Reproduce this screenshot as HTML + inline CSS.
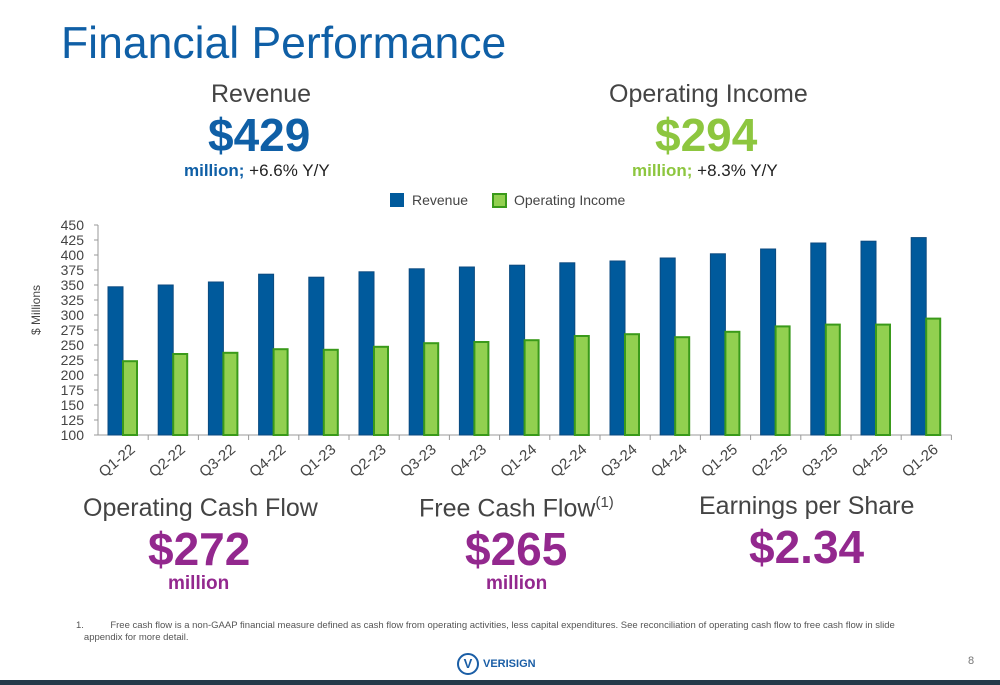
<!DOCTYPE html>
<html><head><meta charset="utf-8"><style>
body{margin:0;width:1000px;height:685px;overflow:hidden;background:#fff;font-family:"Liberation Sans",sans-serif;position:relative}
.a{position:absolute;white-space:nowrap}
</style></head><body>
<div class="a" style="left:61px;top:19px;font-size:44.5px;color:#0f5fa6">Financial Performance</div>
<div class="a" style="left:211px;top:80px;font-size:25px;color:#444">Revenue</div>
<div class="a" style="left:208px;top:108px;font-size:46px;font-weight:bold;color:#0f5fa6">$429</div>
<div class="a" style="left:184px;top:161px;font-size:17px;color:#222"><b style="color:#0f5fa6">million;</b> +6.6% Y/Y</div>
<div class="a" style="left:609px;top:80px;font-size:25px;color:#444">Operating Income</div>
<div class="a" style="left:655px;top:108px;font-size:46px;font-weight:bold;color:#8dc63f">$294</div>
<div class="a" style="left:632px;top:161px;font-size:17px;color:#222"><b style="color:#8dc63f">million;</b> +8.3% Y/Y</div>

<svg class="a" style="left:0;top:0" width="1000" height="500" id="chart"></svg>

<div class="a" style="left:83px;top:494px;font-size:25px;color:#444">Operating Cash Flow</div>
<div class="a" style="left:148px;top:522px;font-size:46px;font-weight:bold;color:#93288e">$272</div>
<div class="a" style="left:168px;top:573px;font-size:19px;font-weight:bold;color:#93288e">million</div>
<div class="a" style="left:419px;top:494px;font-size:25px;color:#444">Free Cash Flow<sup style="font-size:15px">(1)</sup></div>
<div class="a" style="left:465px;top:522px;font-size:46px;font-weight:bold;color:#93288e">$265</div>
<div class="a" style="left:486px;top:573px;font-size:19px;font-weight:bold;color:#93288e">million</div>
<div class="a" style="left:699px;top:492px;font-size:25px;color:#444">Earnings per Share</div>
<div class="a" style="left:749px;top:520px;font-size:46px;font-weight:bold;color:#93288e">$2.34</div>
<div class="a" style="left:76px;top:620px;font-size:9.5px;color:#555;line-height:12px">1.&nbsp;&nbsp;&nbsp;&nbsp;&nbsp;&nbsp;&nbsp;&nbsp;&nbsp;&nbsp;Free cash flow is a non-GAAP financial measure defined as cash flow from operating activities, less capital expenditures. See reconciliation of operating cash flow to free cash flow in slide<br>&nbsp;&nbsp;&nbsp;appendix for more detail.</div>
<div class="a" style="left:457px;top:653px;display:flex;align-items:center">
<span style="display:inline-block;width:18px;height:18px;border:2px solid #1a5ea6;border-radius:50%;color:#1a5ea6;font-weight:bold;font-size:13px;text-align:center;line-height:18px">V</span>
<span style="color:#1a5ea6;font-weight:bold;font-size:11px;margin-left:4px">VERISIGN</span></div>
<div class="a" style="left:968px;top:655px;font-size:11px;color:#777">8</div>
<div class="a" style="left:0;top:680px;width:1000px;height:5px;background:#243a4a"></div>

<script>
const categories=["Q1-22","Q2-22","Q3-22","Q4-22","Q1-23","Q2-23","Q3-23","Q4-23","Q1-24","Q2-24","Q3-24","Q4-24","Q1-25","Q2-25","Q3-25","Q4-25","Q1-26"];
const revenue=[347,350,355,368,363,372,377,380,383,387,390,395,402,410,420,423,429];
const opIncome=[223,235,237,243,242,247,253,255,258,265,268,263,272,281,284,284,294];
const yTicks=[100,125,150,175,200,225,250,275,300,325,350,375,400,425,450];
const NS="http://www.w3.org/2000/svg";
const svg=document.getElementById('chart');
const x0=98,cw=50.2,yB=435,yT=225,vMin=100,vMax=450;
const y=v=>yB-(v-vMin)/(vMax-vMin)*(yB-yT);
const xc=i=>x0+i*cw;
function mk(t,a){const e=document.createElementNS(NS,t);for(const k in a)e.setAttribute(k,a[k]);svg.appendChild(e);return e;}
let ax=mk('line',{x1:x0,y1:yT,x2:x0,y2:yB,stroke:'#999'});


let bx=mk('line',{x1:x0,y1:yB,x2:x0+categories.length*cw,y2:yB,stroke:'#999'});


yTicks.forEach(v=>{
 mk('line',{x1:x0-4,y1:y(v),x2:x0,y2:y(v),stroke:'#999'});
 const t=mk('text',{x:x0-14,y:y(v)+5,'text-anchor':'end','font-size':14,fill:'#444'});t.textContent=v;
 
 
});
const yt=mk('text',{transform:'translate(40,310) rotate(-90)','text-anchor':'middle','font-size':12,fill:'#444'});yt.textContent='$ Millions';


categories.forEach((c,i)=>{
 mk('line',{x1:xc(i+1),y1:yB,x2:xc(i+1),y2:yB+5,stroke:'#999'});
 const r=mk('rect',{x:xc(i)+10,y:y(revenue[i]),width:15,height:yB-y(revenue[i]),fill:'#005a9c',stroke:'#0b4a80','stroke-width':1});
 
 
 const o=mk('rect',{x:xc(i)+25,y:y(opIncome[i]),width:14,height:yB-y(opIncome[i]),fill:'#92d050',stroke:'#3a9a1a','stroke-width':2});
 
 
 const t=mk('text',{transform:`translate(${xc(i)+38},${yB+16}) rotate(-40)`,'text-anchor':'end','font-size':15,fill:'#444'});t.textContent=c;
 
 
});
const l1=mk('rect',{x:390,y:193,width:14,height:14,fill:'#005a9c'});


const lt1=mk('text',{x:412,y:205,'font-size':14,fill:'#444'});lt1.textContent='Revenue';


const l2=mk('rect',{x:493,y:194,width:13,height:13,fill:'#92d050',stroke:'#3a9a1a','stroke-width':2});


const lt2=mk('text',{x:514,y:205,'font-size':14,fill:'#444'});lt2.textContent='Operating Income';


</script>
</body></html>
